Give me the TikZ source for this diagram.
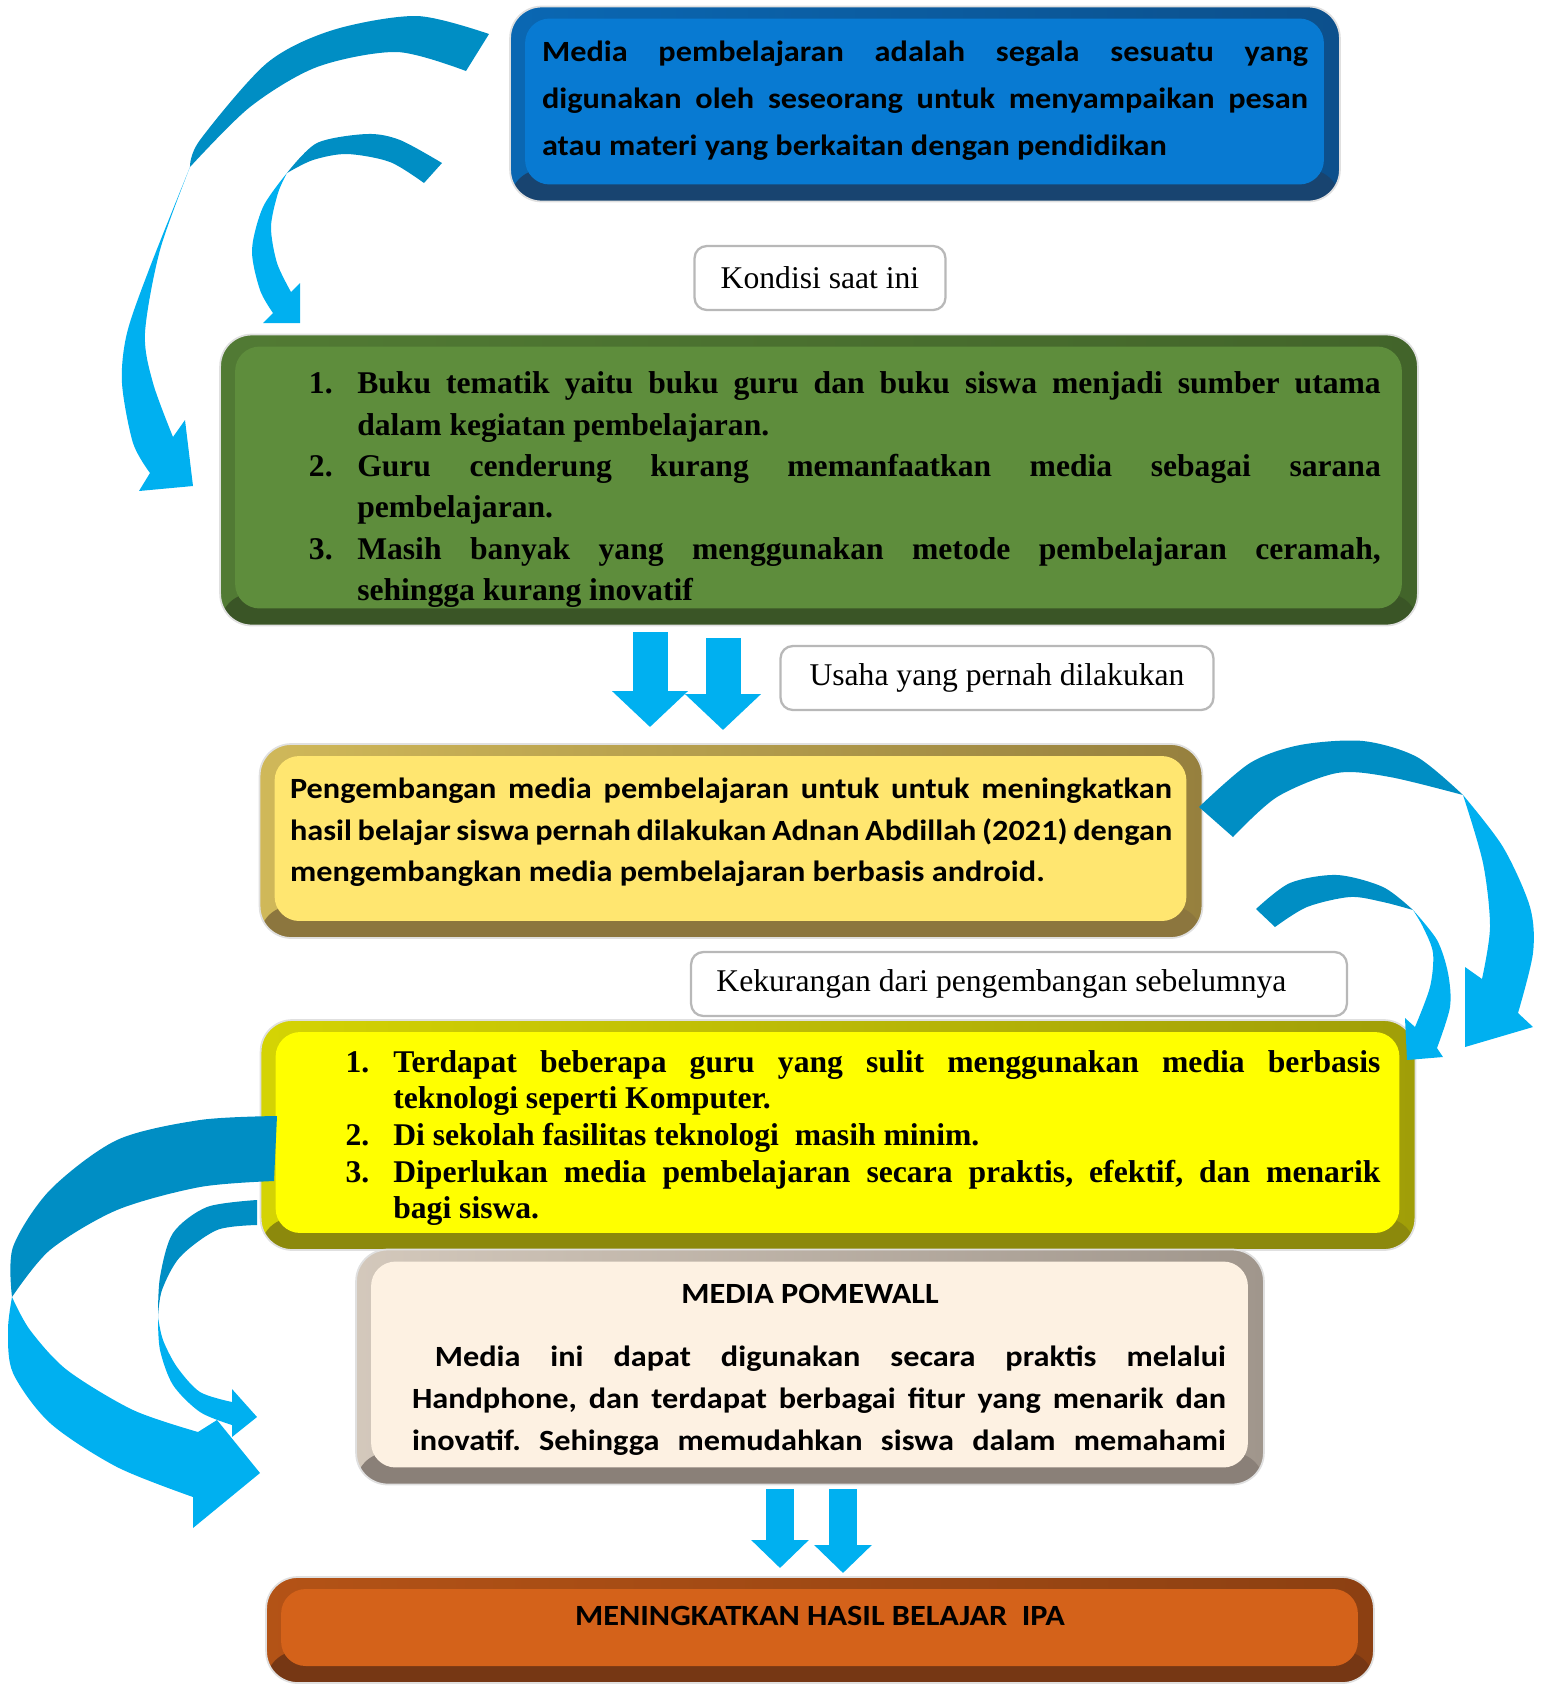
\documentclass[tikz,border=0pt]{standalone}
\usepackage{fontspec}
\setmainfont{Liberation Serif}
\newfontfamily\calibri[FakeStretch=1.1]{Carlito}
\usepackage{enumitem}
\usetikzlibrary{arrows.meta}
\definecolor{blueface}{RGB}{8,122,210}
\definecolor{bluerim}{RGB}{12,80,140}
\definecolor{bluebase}{RGB}{24,68,112}
\definecolor{greenface}{RGB}{94,141,60}
\definecolor{greenrim}{RGB}{66,100,42}
\definecolor{greenbase}{RGB}{58,85,38}
\definecolor{sandface}{RGB}{255,230,112}
\definecolor{sandrim}{RGB}{150,128,62}
\definecolor{sandbase}{RGB}{140,118,62}
\definecolor{yellowface}{RGB}{255,255,0}
\definecolor{yellowrim}{RGB}{160,158,8}
\definecolor{yellowbase}{RGB}{140,137,12}
\definecolor{creamface}{RGB}{253,241,226}
\definecolor{creamrim}{RGB}{160,150,140}
\definecolor{creambase}{RGB}{138,128,120}
\definecolor{orangeface}{RGB}{212,98,26}
\definecolor{orangerim}{RGB}{140,64,18}
\definecolor{orangebase}{RGB}{118,55,20}
\definecolor{arrdark}{RGB}{0,142,196}
\definecolor{arrlight}{RGB}{0,176,240}
\tikzset{
  panel/.style n args={3}{draw=black!12, line width=1pt, left color=#1!55!#2, right color=#2,
    rounded corners=18pt,
    path picture={
      \fill[#3] ([shift={(0,-32)}]path picture bounding box.south west) rectangle (path picture bounding box.south east);
      \fill[#1, rounded corners=14pt] ([shift={(15,12)}]path picture bounding box.north west) rectangle ([shift={(-16,-17)}]path picture bounding box.south east);
    }},
  tag/.style={draw=black!28, line width=1.3pt, fill=white, rounded corners=7pt,
    minimum height=1.28cm, font=\fontsize{18}{22}\selectfont},
  cal/.style={font=\calibri\bfseries\fontsize{16.7}{#1}\selectfont},
  tnr/.style={font=\bfseries\fontsize{18}{#1}\selectfont},
  downarr/.style={draw=arrlight, line width=0.7cm, -{Triangle[length=0.72cm,width=1.48cm]}},
  smallarr/.style={draw=arrlight, line width=0.56cm, -{Triangle[length=0.56cm,width=1.12cm]}},
}
\setlist[enumerate]{itemsep=0pt, topsep=0pt, parsep=0pt, partopsep=0pt, label=\arabic*.}
\newcommand{\lift}[1]{\par\vspace{#1}\hrule height 0pt}
\frenchspacing
\begin{document}
\begin{tikzpicture}[x=0.02cm, y=-0.02cm]
  \useasboundingbox (0,0) rectangle (1543,1685);
  % boxes
  \node[panel={blueface}{bluerim}{bluebase}, minimum width=16.6cm, minimum height=3.9cm,
    text width=15.32cm, align=justify, cal=26.8]
    (media) at (925,104) {Media pembelajaran adalah segala sesuatu yang\linebreak
    digunakan oleh seseorang untuk menyampaikan pesan\linebreak
    atau materi yang berkaitan dengan pendidikan\lift{4pt}};
  \node[tag, minimum width=5.02cm] (kondisi) at (820,278) {Kondisi saat ini};
  \node[panel={greenface}{greenrim}{greenbase}, minimum width=23.96cm, minimum height=5.82cm,
    text width=22.48cm, align=justify, tnr=23.5] (kondisilist) at (819,480) {%
    \begin{enumerate}[leftmargin=57pt, labelsep=14pt, labelwidth=!]
      \item Buku tematik yaitu buku guru dan buku siswa menjadi sumber utama\linebreak
        dalam kegiatan pembelajaran.
      \item Guru cenderung kurang memanfaatkan media sebagai sarana\linebreak
        pembelajaran.
      \item Masih banyak yang menggunakan metode pembelajaran ceramah,\linebreak
        sehingga kurang inovatif
    \end{enumerate}};
  \node[tag, minimum width=8.66cm] (usaha) at (997,678) {Usaha yang pernah dilakukan};
  \node[panel={sandface}{sandrim}{sandbase}, minimum width=18.86cm, minimum height=3.88cm,
    text width=17.64cm, align=justify, cal=23.8] (usahatext) at (731,841) {Pengembangan media
    pembelajaran untuk untuk meningkatkan\linebreak
    hasil belajar siswa pernah dilakukan Adnan Abdillah (2021) dengan\linebreak
    mengembangkan media pembelajaran berbasis android.\lift{10pt}};
  \node[tag, minimum width=13.12cm] (kurang) at (1019,984) {Kekurangan dari pengembangan sebelumnya\hspace*{20pt}};
  \node[panel={yellowface}{yellowrim}{yellowbase}, minimum width=23.1cm, minimum height=4.6cm,
    text width=21.7cm, align=justify, tnr=20.9] (kuranglist) at (838,1135) {%
    \begin{enumerate}[leftmargin=55.6pt, labelsep=13.6pt, labelwidth=!]
      \item Terdapat beberapa guru yang sulit menggunakan media berbasis\linebreak
        teknologi seperti Komputer.
      \item Di sekolah fasilitas teknologi\ \ masih minim.
      \item Diperlukan media pembelajaran secara praktis, efektif, dan menarik\linebreak
        bagi siswa.
    \end{enumerate}\lift{5pt}};
  \node[panel={creamface}{creamrim}{creambase}, minimum width=18.16cm, minimum height=4.7cm,
    text width=16.64cm, align=justify, cal=23.8] (pomewall) at (810,1367) {%
    \hrule height 0pt\vspace{3pt}
    {\centering MEDIA POMEWALL\par}\vspace{12pt}
    {\leftskip=10.2pt \parfillskip=0pt \hspace*{13pt}Media ini dapat digunakan secara praktis melalui\linebreak
    Handphone, dan terdapat berbagai fitur yang menarik dan\linebreak
    inovatif. Sehingga memudahkan siswa dalam memahami\par}};
  \node[panel={orangeface}{orangerim}{orangebase}, minimum width=22.16cm, minimum height=2.12cm,
    cal=20] (hasil) at (820,1630) {\raisebox{16pt}{MENINGKATKAN HASIL BELAJAR\ \ IPA}};
  % straight arrows
  \foreach \x/\y/\t in {650/632/727, 723/638/730}
    \draw[downarr] (\x,\y) -- (\x,\t);
  \foreach \x/\t in {780/1568, 843/1573}
    \draw[smallarr] (\x,1489) -- (\x,\t);
  % curved arrows, top left
  \fill[arrdark] plot[smooth] coordinates {(489,34) (417,16) (333,30) (267,63) (200,140) (190,167)}
    -- plot[smooth] coordinates {(190,167) (250,107) (317,67) (397,52) (466,71)} -- cycle;
  \fill[arrlight] plot[smooth] coordinates {(190,167) (160,250) (145,333) (153,383) (173,437)}
    -- (185,420) -- (193,486) -- (139,491) -- (150,473)
    -- plot[smooth] coordinates {(150,473) (133,443) (122,383) (127,333) (150,267) (190,167)} -- cycle;
  \fill[arrdark] plot[smooth] coordinates {(442,163) (400,140) (367,134) (317,143) (287,173)}
    -- plot[smooth] coordinates {(287,173) (313,160) (347,154) (390,162) (424,183)} -- cycle;
  \fill[arrlight] plot[smooth] coordinates {(287,173) (278,193) (271,227) (277,263) (291,292)}
    -- (300,283) -- (300,323) -- (263,323) -- (273,313)
    -- plot[smooth] coordinates {(273,313) (260,290) (252,250) (263,207) (287,173)} -- cycle;
  % curved arrows, right
  \fill[arrdark] plot[smooth] coordinates {(1199,807) (1250,763) (1300,745) (1363,741) (1417,757) (1463,795)}
    -- plot[smooth] coordinates {(1463,795) (1390,777) (1337,773) (1277,797) (1233,837)} -- cycle;
  \fill[arrlight] plot[smooth] coordinates {(1463,795) (1483,863) (1490,927) (1482,979)}
    -- (1465,967) -- (1465,1047) -- (1533,1027) -- (1518,1013)
    -- plot[smooth] coordinates {(1518,1013) (1533,953) (1530,907) (1503,847) (1463,795)} -- cycle;
  \fill[arrdark] plot[smooth] coordinates {(1256,909) (1290,883) (1337,875) (1383,887) (1413,910)}
    -- plot[smooth] coordinates {(1413,910) (1383,902) (1350,897) (1307,907) (1275,927)} -- cycle;
  \fill[arrlight] plot[smooth] coordinates {(1413,910) (1423,927) (1433,953) (1430,987) (1415,1027)}
    -- (1405,1018) -- (1407,1060) -- (1443,1057) -- (1437,1048)
    -- plot[smooth] coordinates {(1437,1048) (1450,1007) (1448,973) (1437,940) (1413,910)} -- cycle;
  % curved arrows, bottom left
  \fill[arrdark] plot[smooth] coordinates {(277,1116) (200,1120) (117,1140) (50,1190) (13,1247) (12,1297)}
    -- plot[smooth] coordinates {(12,1297) (50,1250) (117,1210) (200,1187) (274,1181)} -- cycle;
  \fill[arrlight] plot[smooth] coordinates {(12,1297) (8,1330) (13,1373) (50,1423) (117,1467) (193,1497)}
    -- (193,1528) -- (260,1473) -- (217,1420) -- (198,1432)
    -- plot[smooth] coordinates {(198,1432) (133,1410) (67,1370) (30,1330) (12,1297)} -- cycle;
  \fill[arrdark] plot[smooth] coordinates {(257,1200) (207,1207) (173,1233) (160,1277) (158,1317)}
    -- plot[smooth] coordinates {(158,1317) (162,1290) (180,1257) (217,1230) (257,1225)} -- cycle;
  \fill[arrlight] plot[smooth] coordinates {(158,1317) (163,1340) (177,1367) (200,1392) (232,1402)}
    -- (232,1389) -- (257,1417) -- (232,1437) -- (232,1425)
    -- plot[smooth] coordinates {(232,1425) (200,1412) (173,1385) (160,1350) (158,1317)} -- cycle;
\end{tikzpicture}
\end{document}
